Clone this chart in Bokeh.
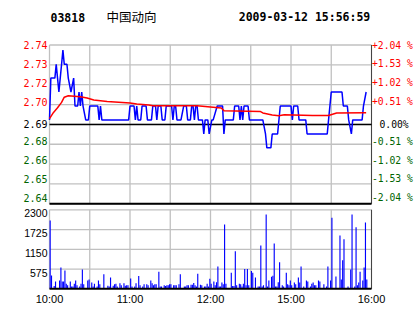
from bokeh.plotting import figure
from bokeh.models import Range1d, Label, LabelSet, ColumnDataSource
from bokeh.core.properties import value
from bokeh.embed import file_html
from bokeh.resources import INLINE

# ---------------- data ----------------
stock_code = "03818"
stock_name = "中国动向"
stamp = "2009-03-12 15:56:59"
prev_close = 2.69
pct_levels = [2.04, 1.53, 1.02, 0.51, 0.00, -0.51, -1.02, -1.53, -2.04]
price_tick_labels = ["2.74", "2.73", "2.72", "2.70", "2.69", "2.68", "2.66", "2.65", "2.64"]
pct_tick_labels = ["+2.04 %", "+1.53 %", "+1.02 %", "+0.51 %", "0.00%",
                   "-0.51 %", "-1.02 %", "-1.53 %", "-2.04 %"]
time_ticks = [0, 60, 120, 180, 240]          # trading minutes since 10:00
time_labels = ["10:00", "11:00", "12:00", "15:00", "16:00"]
grid_minutes = [0, 30, 60, 90, 120, 150, 180, 210, 240]
vol_ticks = [575, 1150, 1725, 2300]
vol_tick_labels = ["575", "1150", "1725", "2300"]

# price line (trading minute, price)
price_t = [0, 1, 4, 5, 6, 7, 8, 9, 10, 11, 13, 14, 16, 18, 19, 21, 22, 23, 24, 25,
           27, 29, 30, 36, 37, 38, 39, 59, 60, 63, 64, 65, 66, 68, 69, 72, 73, 76, 77, 79,
           80, 81, 83, 84, 86, 87, 91, 92, 93, 94, 95, 98, 100, 102, 103, 105, 106, 107, 108, 109,
           110, 111, 114, 115, 116, 118, 119, 121, 122, 125, 129, 130, 131, 137, 138, 141, 142, 143, 144, 145,
           148, 149, 159, 161, 162, 165, 166, 170, 172, 180, 181, 182, 185, 186, 191, 192, 207, 208, 210, 218,
           219, 222, 223, 225, 226, 233, 234, 236]
price_v = [2.6931, 2.7220, 2.7220, 2.7316, 2.7220, 2.7124, 2.7220, 2.7316, 2.7413, 2.7316,
           2.7316, 2.7220, 2.7124, 2.7220, 2.7027, 2.7027, 2.7124, 2.7027, 2.7124, 2.7027,
           2.6931, 2.6931, 2.7027, 2.7027, 2.6931, 2.7027, 2.6931, 2.6931, 2.7027, 2.7027,
           2.6931, 2.7027, 2.6931, 2.6931, 2.7027, 2.7027, 2.6931, 2.6931, 2.7027, 2.7027,
           2.6931, 2.7027, 2.7027, 2.6931, 2.6931, 2.7027, 2.7027, 2.6931, 2.7027, 2.7027,
           2.6931, 2.6931, 2.7027, 2.7027, 2.6931, 2.6931, 2.7027, 2.7027, 2.6931, 2.7027,
           2.7027, 2.6931, 2.6931, 2.6834, 2.6931, 2.6931, 2.6834, 2.6931, 2.6931, 2.7027,
           2.7027, 2.6834, 2.6931, 2.6931, 2.7027, 2.7027, 2.6931, 2.7027, 2.6931, 2.7027,
           2.7027, 2.6931, 2.6931, 2.6834, 2.6738, 2.6738, 2.6834, 2.6834, 2.7027, 2.7027,
           2.6931, 2.7027, 2.7027, 2.6931, 2.6931, 2.6834, 2.6834, 2.6931, 2.7124, 2.7124,
           2.7027, 2.7027, 2.6931, 2.6834, 2.6931, 2.6931, 2.7027, 2.7124]

# average price line (trading minute, price)
avg_t = [0, 3, 6, 9, 11, 14, 23, 28, 33, 43, 60, 65, 74, 77, 110, 118, 128, 130,
         157, 159, 166, 171, 175, 196, 208, 214, 236]
avg_v = [2.6940, 2.6983, 2.7015, 2.7052, 2.7088, 2.7098, 2.7091, 2.7082, 2.7068,
         2.7059, 2.7048, 2.7041, 2.7034, 2.7029, 2.7029, 2.7022, 2.7013, 2.6995,
         2.6990, 2.6979, 2.6965, 2.6960, 2.6967, 2.6962, 2.6962, 2.6979, 2.6981]

# volume per minute (trading minute, volume)
vol_t = [0, 1, 3, 4, 7, 8, 9, 10, 11, 12, 13, 15, 16, 17, 18, 19, 20, 22, 23, 24,
         25, 28, 29, 31, 32, 33, 35, 36, 37, 40, 43, 44, 45, 47, 48, 49, 50, 52, 53, 55,
         56, 57, 58, 60, 61, 63, 64, 66, 67, 69, 70, 72, 73, 75, 76, 77, 78, 79, 81, 82,
         83, 85, 86, 87, 88, 89, 90, 92, 93, 94, 96, 97, 100, 101, 102, 103, 105, 106, 107, 108,
         109, 110, 112, 113, 115, 116, 117, 118, 119, 120, 122, 123, 124, 125, 126, 127, 128, 129, 130, 131,
         135, 136, 137, 138, 139, 141, 142, 143, 144, 145, 146, 147, 148, 150, 151, 153, 155, 156, 157, 158,
         159, 161, 162, 163, 165, 166, 167, 168, 169, 170, 171, 173, 174, 176, 177, 178, 179, 180, 182, 183,
         185, 186, 187, 189, 191, 192, 194, 195, 196, 197, 198, 200, 201, 204, 206, 207, 209, 210, 213, 216,
         217, 218, 219, 222, 224, 225, 227, 228, 229, 230, 231, 233, 234, 235, 236]
vol_v = [1990, 390, 80, 210, 240, 620, 210, 210, 530, 150, 100, 210, 70, 70, 150, 240, 100, 70, 150, 560,
         130, 240, 270, 180, 70, 150, 70, 240, 130, 420, 90, 70, 330, 90, 130, 150, 70, 160, 100, 160,
         90, 100, 100, 300, 70, 70, 160, 370, 100, 70, 130, 130, 100, 240, 160, 100, 130, 130, 500, 70,
         70, 100, 80, 100, 100, 130, 130, 100, 100, 100, 130, 420, 70, 70, 100, 100, 120, 120, 170, 100,
         70, 440, 120, 100, 70, 70, 150, 70, 290, 150, 210, 100, 190, 650, 70, 70, 180, 130, 1870, 150,
         470, 80, 80, 1090, 100, 150, 130, 70, 150, 580, 100, 580, 100, 520, 470, 330, 70, 70, 1260, 70,
         100, 2160, 70, 240, 350, 380, 1320, 70, 70, 190, 770, 100, 70, 470, 130, 100, 240, 100, 180, 130,
         330, 180, 650, 70, 240, 210, 70, 150, 180, 100, 100, 240, 210, 130, 70, 650, 240, 2070, 360, 1550,
         270, 830, 1440, 70, 560, 2160, 70, 1790, 100, 180, 500, 240, 620, 1930, 270]

# ---------------- styles / geometry (pixels) ----------------
GRID = "#C0C0C0"
RED = "#FF0000"
GREEN = "#006400"
BLUE = "#0000FF"
EDGE = "#444444"
W, H = 414, 314
LEFT, RIGHT = 49, 371            # panel left / right edges
P_TOP, P_BOT = 44.5, 203.3       # price panel
V_TOP, V_BOT = 209.3, 288.3      # volume panel
HEAD_Y = 16.5
XLAB_Y = 298.3
price_label_dy = [0, -1, -2, -3, 0, -3, -4, -5, -6]   # label shift vs. its grid line (px, up<0)

lo = prev_close * (1 + pct_levels[-1] / 100)
hi = prev_close * (1 + pct_levels[0] / 100)
price_grid = [prev_close * (1 + q / 100) for q in pct_levels]
label_colors = [RED if q > 0 else ("black" if q == 0 else GREEN) for q in pct_levels]

PX = (RIGHT - LEFT) / 240.0              # px per minute
PP = (hi - lo) / (P_BOT - P_TOP)         # price per px
VP = vol_ticks[-1] / (V_BOT - V_TOP)     # volume per px
x_lo, x_hi = -LEFT / PX, 240 + (W - RIGHT) / PX
y_lo, y_hi = lo - (H - P_BOT) * PP, hi + P_TOP * PP
v_lo, v_hi = -(H - V_BOT) * VP, vol_ticks[-1] + V_TOP * VP
vmax = vol_ticks[-1]

p = figure(width=W, height=H, x_range=Range1d(x_lo, x_hi), y_range=Range1d(y_lo, y_hi),
           extra_y_ranges={"vol": Range1d(v_lo, v_hi)},
           x_axis_type=None, y_axis_type=None, output_backend="svg", toolbar_location=None,
           min_border=0, min_border_left=0, min_border_right=0, min_border_top=0, min_border_bottom=0,
           background_fill_color="white", border_fill_color="white", outline_line_color=None)

n = len(grid_minutes)
# ----- price panel grid and frame -----
p.segment(x0=grid_minutes, x1=grid_minutes, y0=[lo] * n, y1=[hi] * n, line_color=GRID, line_width=1.3)
p.segment(x0=[0] * len(price_grid), x1=[240] * len(price_grid), y0=price_grid, y1=price_grid,
          line_color=GRID, line_width=1.3)
p.segment(x0=[240], x1=[240], y0=[lo], y1=[hi], line_color=EDGE, line_width=1)
p.segment(x0=[0], x1=[240], y0=[prev_close], y1=[prev_close], line_color="black", line_width=1.5)
p.segment(x0=[0], x1=[240], y0=[lo], y1=[lo], line_color="black", line_width=2)

p.line(price_t, price_v, line_color=BLUE, line_width=1.5)
p.line(avg_t, avg_v, line_color=RED, line_width=1.5)

# ----- volume panel grid and frame -----
p.segment(x0=grid_minutes, x1=grid_minutes, y0=[0] * n, y1=[vmax] * n, line_color=GRID, line_width=1.3,
          y_range_name="vol")
p.segment(x0=[0] * len(vol_ticks), x1=[240] * len(vol_ticks), y0=vol_ticks, y1=vol_ticks,
          line_color=GRID, line_width=1.3, y_range_name="vol")
p.segment(x0=[240], x1=[240], y0=[0], y1=[vmax], line_color=EDGE, line_width=1, y_range_name="vol")
p.vbar(x=[t + 0.5 for t in vol_t], top=vol_v, bottom=0, width=0.85, fill_color=BLUE, line_color=None,
       y_range_name="vol")
p.segment(x0=[0], x1=[240], y0=[0], y1=[0], line_color="black", line_width=2, y_range_name="vol")

# ----- price tick labels -----
left_src = ColumnDataSource(dict(x=[-2 / PX] * len(price_grid),
                                 y=[g - d * PP for g, d in zip(price_grid, price_label_dy)],
                                 text=price_tick_labels, color=label_colors))
p.add_layout(LabelSet(x="x", y="y", text="text", source=left_src,
                      text_align="right", text_baseline="middle", text_color="color",
                      text_font=value("DejaVu Sans Mono"), text_font_size="10px"))
right_x = [240 + (8 if q == 0 else 0.5) / PX for q in pct_levels]
right_src = ColumnDataSource(dict(x=right_x,
                                  y=[g - d * PP for g, d in zip(price_grid, price_label_dy)],
                                  text=pct_tick_labels, color=label_colors))
p.add_layout(LabelSet(x="x", y="y", text="text", source=right_src,
                      text_align="left", text_baseline="middle", text_color="color",
                      text_font=value("DejaVu Sans Mono"), text_font_size="9.7px"))

# ----- volume tick labels -----
vol_src = ColumnDataSource(dict(x=[-2 / PX] * len(vol_ticks),
                                y=[t - 3.5 * VP for t in vol_ticks], text=vol_tick_labels))
p.add_layout(LabelSet(x="x", y="y", text="text", source=vol_src, y_range_name="vol",
                      text_align="right", text_baseline="middle", text_color="black",
                      text_font=value("Liberation Sans"), text_font_size="10.5px"))

# ----- time labels -----
time_src = ColumnDataSource(dict(x=time_ticks, y=[-(XLAB_Y - V_BOT) * VP] * len(time_ticks),
                                 text=time_labels))
p.add_layout(LabelSet(x="x", y="y", text="text", source=time_src, y_range_name="vol",
                      text_align="center", text_baseline="middle", text_color="black",
                      text_font=value("Liberation Sans"), text_font_size="11px"))

# ----- header -----
head_y = y_hi - HEAD_Y * PP
p.add_layout(Label(x=1 / PX, y=head_y, text=stock_code,
                   text_font="DejaVu Sans Mono", text_font_style="bold", text_font_size="11.5px",
                   text_baseline="middle", text_align="left", text_color="black"))
p.add_layout(Label(x=57 / PX, y=head_y + 1 * PP, text=stock_name,
                   text_font="Noto Sans CJK SC", text_font_size="12.5px",
                   text_baseline="middle", text_align="left", text_color="black"))
p.add_layout(Label(x=255 / PX, y=head_y, text=stamp,
                   text_font="DejaVu Sans Mono", text_font_style="bold", text_font_size="11.5px",
                   text_baseline="middle", text_align="center", text_color="black"))

open("out.html", "w").write(file_html(p, INLINE))
